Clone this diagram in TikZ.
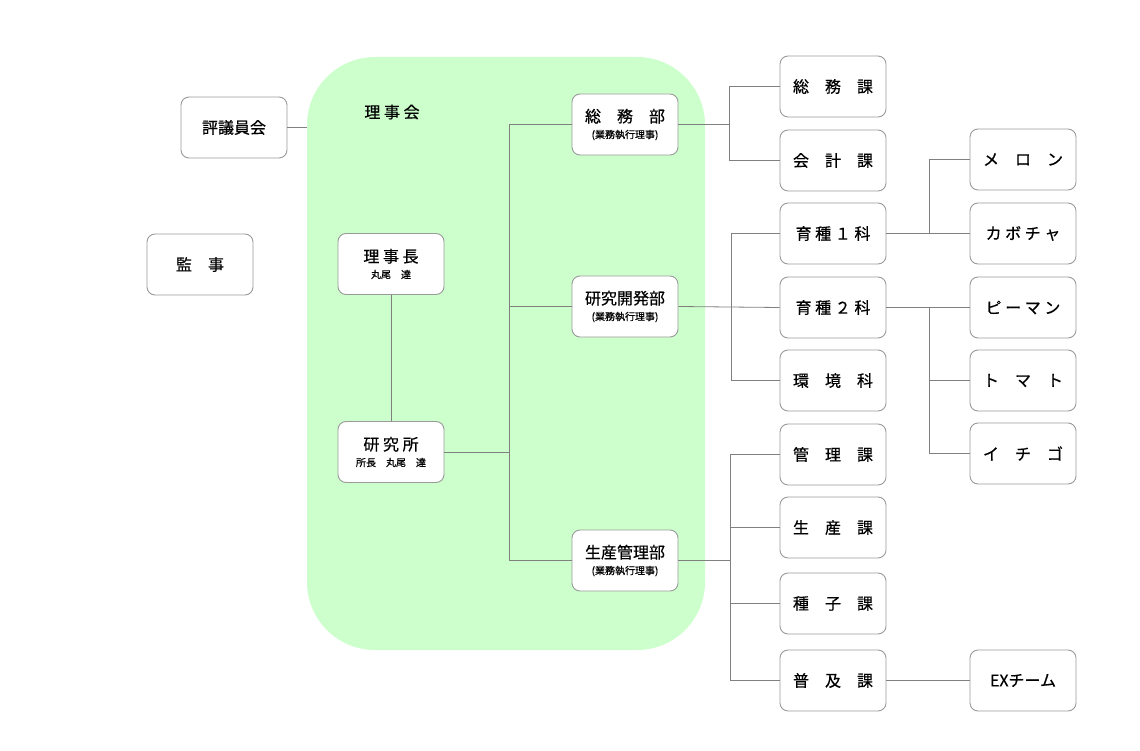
\documentclass[tikz,border=0pt]{standalone}
\usepackage{fontspec}
\setmainfont{Noto Sans CJK JP}[FakeBold=0.6]
\definecolor{boardgreen}{HTML}{CCFFCC}
\definecolor{edgegray}{HTML}{9A9A9A}
\definecolor{linegray}{HTML}{808080}
\begin{document}
\begin{tikzpicture}[x=1pt,y=-1pt,
  box/.style={draw=edgegray, line width=0.9pt, fill=white, rounded corners=8pt,
    minimum width=106pt, minimum height=61pt, inner sep=0pt, align=center,
    font=\fontsize{16}{17}\selectfont},
  ln/.style={draw=linegray, line width=0.8pt}]
\useasboundingbox (0,0) rectangle (1140,751);
\newcommand\subtxt[1]{\\[-1pt]{\fontsize{10}{12}\selectfont #1}}
% board
\node[fill=boardgreen, rounded corners=68pt, minimum width=398pt, minimum height=593pt, inner sep=0pt] (board) at (506,353.5) {};
\node[font=\fontsize{16}{17}\selectfont, inner sep=0pt] (boardlabel) at (392,112) {理 事 会};
% left
\node[box] (hyogi) at (234,127.5) {評議員会};
\node[box] (kanji) at (200,264.5) {監　事};
\node[box] (rijicho) at (391,264) {理 事 長\subtxt{丸尾　達}};
\node[box] (kenkyujo) at (391,452) {研 究 所\subtxt{所長　丸尾　達}};
% departments
\node[box] (somubu) at (625,124.5) {総　務　部\subtxt{(業務執行理事)}};
\node[box] (kaihatsubu) at (625,306.5) {研究開発部\subtxt{(業務執行理事)}};
\node[box] (seisanbu) at (625,560.5) {生産管理部\subtxt{(業務執行理事)}};
% sections
\node[box] (somuka) at (833,86.5) {総　務　課};
\node[box] (kaikeika) at (833,160.5) {会　計　課};
\node[box] (ikushu1) at (833,233.5) {育 種 １ 科};
\node[box] (ikushu2) at (833,307.5) {育 種 ２ 科};
\node[box] (kankyo) at (833,380.5) {環　境　科};
\node[box] (kanrika) at (833,454.5) {管　理　課};
\node[box] (seisanka) at (833,527.5) {生　産　課};
\node[box] (shushika) at (833,603.5) {種　子　課};
\node[box] (fukyuka) at (833,680.5) {普　及　課};
% crops
\node[box] (melon) at (1023,159.5) {メ　ロ　ン};
\node[box] (kabocha) at (1023,233.5) {カ ボ チ ャ};
\node[box] (piman) at (1023,307.5) {ピ ー マ ン};
\node[box] (tomato) at (1023,380.5) {ト　マ　ト};
\node[box] (ichigo) at (1023,453.5) {イ　チ　ゴ};
\node[box] (exteam) at (1023,680.5) {EXチーム};
% bus coordinates
\coordinate (busA) at (509,0);
\coordinate (busB) at (729,0);
\coordinate (busC) at (731,0);
\coordinate (busD) at (730,0);
\coordinate (busE) at (929,0);
% connectors
\draw[ln] (hyogi.east) -- (hyogi.east -| board.west);
\draw[ln] (rijicho.south) -- (kenkyujo.north);
\draw[ln] (kenkyujo.east) -- (kenkyujo.east -| busA);
\draw[ln] (somubu.west) -- (somubu.west -| busA) -- (seisanbu.west -| busA) -- (seisanbu.west);
\draw[ln] (kaihatsubu.west) -- (kaihatsubu.west -| busA);
\draw[ln] (somubu.east) -- (somubu.east -| busB);
\draw[ln] (somuka.west) -- (somuka.west -| busB) -- (kaikeika.west -| busB) -- (kaikeika.west);
\draw[ln] (kaihatsubu.east) -- (ikushu2.west);
\draw[ln] (ikushu1.west) -- (ikushu1.west -| busC) -- (kankyo.west -| busC) -- (kankyo.west);
\draw[ln] (seisanbu.east) -- (seisanbu.east -| busD);
\draw[ln] (kanrika.west) -- (kanrika.west -| busD) -- (fukyuka.west -| busD) -- (fukyuka.west);
\draw[ln] (seisanka.west) -- (seisanka.west -| busD);
\draw[ln] (shushika.west) -- (shushika.west -| busD);
\draw[ln] (ikushu1.east) -- (kabocha.west);
\draw[ln] (melon.west) -- (melon.west -| busE) -- (ikushu1.east -| busE);
\draw[ln] (ikushu2.east) -- (piman.west);
\draw[ln] (ikushu2.east -| busE) -- (ichigo.west -| busE) -- (ichigo.west);
\draw[ln] (tomato.west) -- (tomato.west -| busE);
\draw[ln] (fukyuka.east) -- (exteam.west);
\end{tikzpicture}
\end{document}
